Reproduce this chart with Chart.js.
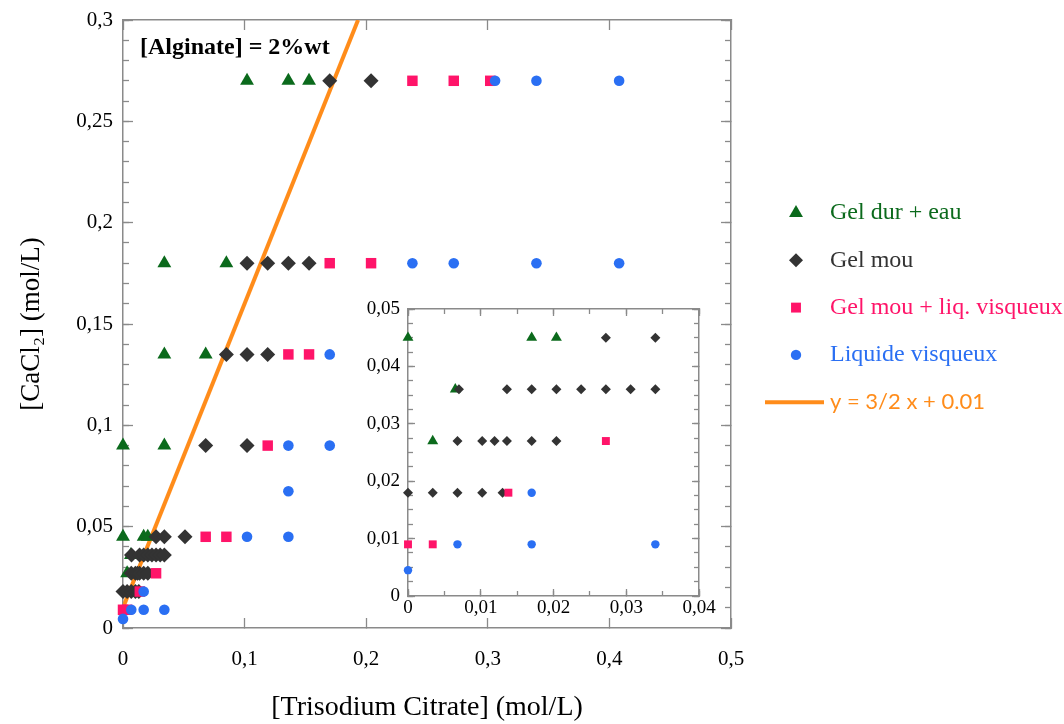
<!DOCTYPE html>
<html lang="fr">
<head>
<meta charset="utf-8">
<title>Diagramme CaCl2 / citrate</title>
<script src="https://cdn.jsdelivr.net/npm/chart.js@4.4.1/dist/chart.umd.min.js"></script>
<style>
  html, body { margin: 0; padding: 0; background: #fff; }
  #cadre { position: relative; width: 1064px; height: 724px; }
  #principal { position: absolute; left: 0; top: 0; }
  #encart { position: absolute; left: 330px; top: 285px; }
</style>
</head>
<body>
<div id="cadre">
  <canvas id="principal" width="1064" height="724"></canvas>
  <canvas id="encart" width="400" height="345"></canvas>
</div>
<script>
/* valeurs : [Trisodium Citrate] (x) et [CaCl2] (y), en mol/L */
const nomsSeries = ["Gel dur + eau", "Gel mou", "Gel mou + liq. visqueux", "Liquide visqueux"];

const gelDurX = [0.102, 0.136, 0.153, 0.034, 0.085, 0.034, 0.068, 0, 0.034, 0, 0.017, 0.0204, 0.0065, 0.0034];
const gelDurY = [0.27, 0.27, 0.27, 0.18, 0.18, 0.135, 0.135, 0.09, 0.09, 0.045, 0.045, 0.045, 0.036, 0.027];

const gelMouX = [0.17, 0.204,
  0.102, 0.119, 0.136, 0.153,
  0.085, 0.102, 0.119,
  0.068, 0.102,
  0.0272, 0.034, 0.051,
  0.007, 0.0136, 0.017, 0.0204, 0.0238, 0.0272, 0.0306, 0.034,
  0.0068, 0.0102, 0.0119, 0.0136, 0.017, 0.0204,
  0, 0.0034, 0.0068, 0.0102, 0.013];
const gelMouY = [0.27, 0.27,
  0.18, 0.18, 0.18, 0.18,
  0.135, 0.135, 0.135,
  0.09, 0.09,
  0.045, 0.045, 0.045,
  0.036, 0.036, 0.036, 0.036, 0.036, 0.036, 0.036, 0.036,
  0.027, 0.027, 0.027, 0.027, 0.027, 0.027,
  0.018, 0.018, 0.018, 0.018, 0.018];

const gelLiqX = [0.238, 0.272, 0.302, 0.17, 0.204, 0.136, 0.153, 0.119, 0.068, 0.085, 0.0272, 0.0138, 0, 0.0034];
const gelLiqY = [0.27, 0.27, 0.27, 0.18, 0.18, 0.135, 0.135, 0.09, 0.045, 0.045, 0.027, 0.018, 0.009, 0.009];

const liquideX = [0.306, 0.34, 0.408, 0.238, 0.272, 0.34, 0.408, 0.17, 0.136, 0.17, 0.136, 0.102, 0.136, 0.017, 0.0068, 0.017, 0.034, 0];
const liquideY = [0.27, 0.27, 0.27, 0.18, 0.18, 0.18, 0.18, 0.135, 0.09, 0.09, 0.0675, 0.045, 0.045, 0.018, 0.009, 0.009, 0.009, 0.0045];

// droite y = 3/2 x + 0.01 (deux extrémités)
const droiteNom = "y = 3/2 x + 0.01";
const droiteX = [0, 0.1933];
const droiteY = [0.01, 0.3];

const texteAlginate = "[Alginate] = 2%wt";
const titreX = "[Trisodium Citrate] (mol/L)";
const titreY = "[CaCl\u2082] (mol/L)";

const GRIS = "#8a8a8a";
const SERIF = "'Liberation Serif', 'Times New Roman', serif";
const couleurs = ["#0b6a1c", "#333333", "#ff1469", "#2a6ff3"];
const couleurDroite = "#ff8c1a";
const formes = ["triangle", "rectRot", "rect", "circle"];

function points(xs, ys, garder) {
  const res = [];
  for (let i = 0; i < xs.length; i++) {
    if (!garder || garder(xs[i], ys[i])) { res.push({ x: xs[i], y: ys[i] }); }
  }
  return res;
}

function virgule(v) {
  return String(parseFloat(v.toFixed(4))).replace(".", ",");
}

function jeuxDeDonnees(rayons, garder, avecDroite) {
  const xs = [gelDurX, gelMouX, gelLiqX, liquideX];
  const ys = [gelDurY, gelMouY, gelLiqY, liquideY];
  const jeux = nomsSeries.map(function(nom, i) {
    return {
      label: nom,
      data: points(xs[i], ys[i], garder),
      pointStyle: formes[i],
      pointRadius: rayons[i],
      pointHoverRadius: rayons[i],
      backgroundColor: couleurs[i],
      borderColor: couleurs[i],
      borderWidth: 0,
      order: 4 - i,
      clip: false
    };
  });
  if (avecDroite) {
    jeux.push({
      type: "line",
      label: droiteNom,
      data: points(droiteX, droiteY),
      borderColor: couleurDroite,
      borderWidth: 4,
      pointRadius: 0,
      fill: false,
      order: 10
    });
  }
  return jeux;
}

// axe avec graduations tournées vers l'intérieur
function axe(pos, min, max, pas, longueur, extra) {
  return Object.assign({
    type: "linear", position: pos, min: min, max: max,
    grid: { drawOnChartArea: false, drawTicks: true, tickLength: -longueur, color: GRIS, tickColor: GRIS, tickWidth: 1.3 },
    border: { display: false, color: GRIS, width: 1.5 },
    ticks: { display: false, stepSize: pas, autoSkip: false }
  }, extra);
}

function etiquettes(pas, taille, marge) {
  return { display: true, stepSize: pas, autoSkip: false, padding: marge, color: "#000", font: { family: SERIF, size: taille },
           callback: function(v) { return virgule(v); } };
}

// taille fixe de l'axe, sans marge supplémentaire due aux étiquettes
function taille(prop, valeur) {
  return function(s) {
    s[prop] = valeur;
    s.paddingTop = 0; s.paddingBottom = 0; s.paddingLeft = 0; s.paddingRight = 0;
  };
}

/* ---------- graphique principal ---------- */
const legendeDroite = {
  id: "legendeDroite",
  afterDraw(chart) {
    const ctx = chart.ctx;
    const tailles = [8, 7, 7, 5.2];
    ctx.save();
    ctx.textBaseline = "middle";
    ctx.textAlign = "left";
    for (let i = 0; i < nomsSeries.length; i++) {
      const y = 213 + i * 47.3;
      ctx.fillStyle = couleurs[i];
      ctx.strokeStyle = couleurs[i];
      Chart.helpers.drawPoint(ctx, { pointStyle: formes[i], radius: tailles[i], rotation: 0, borderWidth: 0 }, 796, y);
      ctx.fillStyle = couleurs[i];
      ctx.font = "24px " + SERIF;
      ctx.fillText(nomsSeries[i], 830, y);
    }
    const yl = 213 + 4 * 47.3;
    ctx.strokeStyle = couleurDroite;
    ctx.lineWidth = 4;
    ctx.beginPath();
    ctx.moveTo(765, yl);
    ctx.lineTo(824, yl);
    ctx.stroke();
    ctx.fillStyle = couleurDroite;
    ctx.font = "22px Lato, 'Open Sans', sans-serif";
    ctx.fillText(droiteNom, 830, yl);
    // annotation
    ctx.fillStyle = "#000";
    ctx.font = "bold 24px " + SERIF;
    ctx.fillText(texteAlginate, 140, 48);
    ctx.restore();
  }
};

new Chart(document.getElementById("principal").getContext("2d"), {
  type: "scatter",
  data: { datasets: jeuxDeDonnees([8, 7.5, 7.4, 5.3], null, true) },
  options: {
    responsive: false,
    animation: false,
    devicePixelRatio: 1,
    layout: { padding: { left: 0, top: 20, right: 333, bottom: 0 } },
    plugins: { legend: { display: false }, tooltip: { enabled: false } },
    scales: {
      x: axe("bottom", 0, 0.5, 0.1, 10, {
        border: { display: true, color: GRIS, width: 1.5 },
        ticks: etiquettes(0.1, 21, 29),
        title: { display: true, text: titreX, color: "#000", font: { family: SERIF, size: 28 }, padding: { top: 0, bottom: 0 } },
        afterFit: taille("height", 96)
      }),
      x2: axe("top", 0, 0.5, 0.1, 10, {
        border: { display: true, color: GRIS, width: 1.5 },
        afterFit: taille("height", 0)
      }),
      y: axe("left", 0, 0.3, 0.05, 10, {
        weight: 1,
        border: { display: true, color: GRIS, width: 1.5 },
        ticks: etiquettes(0.05, 21, 20),
        title: { display: true, text: titreY, color: "#000", font: { family: SERIF, size: 27 }, padding: { top: 16, bottom: 0 } },
        afterFit: taille("width", 123)
      }),
      yMineur: axe("left", 0, 0.3, 0.01, 6, { weight: 0, afterFit: taille("width", 0) }),
      y2: axe("right", 0, 0.3, 0.05, 10, {
        border: { display: true, color: GRIS, width: 1.5 },
        afterFit: taille("width", 0)
      }),
      y2Mineur: axe("right", 0, 0.3, 0.01, 6, { afterFit: taille("width", 0) })
    }
  },
  plugins: [legendeDroite]
});

/* ---------- encart (zoom sur les faibles concentrations) ---------- */
const dansEncart = function(x, y) { return x <= 0.04 && y <= 0.05; };

new Chart(document.getElementById("encart").getContext("2d"), {
  type: "scatter",
  data: { datasets: jeuxDeDonnees([6.3, 5, 5.6, 4.2], dansEncart, false) },
  options: {
    responsive: false,
    animation: false,
    devicePixelRatio: 1,
    layout: { padding: { left: 0, top: 24, right: 31, bottom: 0 } },
    plugins: { legend: { display: false }, tooltip: { enabled: false } },
    scales: {
      x: axe("bottom", 0, 0.04, 0.01, 7, {
        weight: 1,
        border: { display: true, color: GRIS, width: 1.5 },
        ticks: etiquettes(0.01, 19, 8),
        afterFit: taille("height", 34)
      }),
      xMineur: axe("bottom", 0, 0.04, 0.005, 5, { weight: 0, afterFit: taille("height", 0) }),
      x2: axe("top", 0, 0.04, 0.01, 7, {
        weight: 1,
        border: { display: true, color: GRIS, width: 1.5 },
        afterFit: taille("height", 0)
      }),
      x2Mineur: axe("top", 0, 0.04, 0.005, 5, { weight: 0, afterFit: taille("height", 0) }),
      y: axe("left", 0, 0.05, 0.01, 7, {
        weight: 1,
        border: { display: true, color: GRIS, width: 1.5 },
        ticks: etiquettes(0.01, 19, 15),
        afterFit: taille("width", 78)
      }),
      yMineur: axe("left", 0, 0.05, 0.0025, 5, { weight: 0, afterFit: taille("width", 0) }),
      y2: axe("right", 0, 0.05, 0.01, 7, {
        border: { display: true, color: GRIS, width: 1.5 },
        afterFit: taille("width", 0)
      }),
      y2Mineur: axe("right", 0, 0.05, 0.0025, 5, { afterFit: taille("width", 0) })
    }
  }
});
</script>
</body>
</html>
